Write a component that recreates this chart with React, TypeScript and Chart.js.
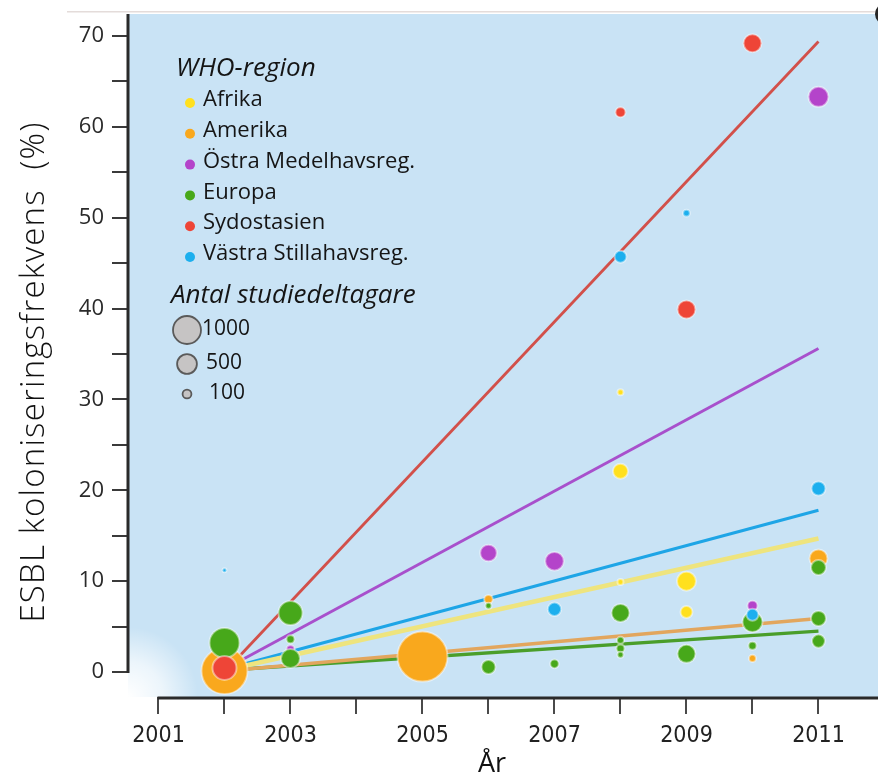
import React, { useEffect, useRef } from "react";
import { Chart, registerables } from "chart.js";

Chart.register(...registerables);

// ---------------- DATA ----------------
const xTickYears = [2001, 2002, 2003, 2004, 2005, 2006, 2007, 2008, 2009, 2010, 2011];
const xLabelYears = [2001, 2003, 2005, 2007, 2009, 2011];
const yTickValues = [0, 5, 10, 15, 20, 25, 30, 35, 40, 45, 50, 55, 60, 65, 70];
const yLabelValues = [0, 10, 20, 30, 40, 50, 60, 70];

const regionNames = [
  "Afrika",
  "Amerika",
  "Östra Medelhavsreg.",
  "Europa",
  "Sydostasien",
  "Västra Stillahavsreg.",
];
const sizeLegendValues = [1000, 500, 100];

// Afrika
const afrikaYears = [2008, 2008, 2008, 2009, 2009];
const afrikaRates = [30.8, 22.1, 9.9, 10.0, 6.6];
const afrikaN = [46, 287, 46, 460, 184];
// Amerika
const amerikaYears = [2002, 2005, 2006, 2010, 2011];
const amerikaRates = [0.1, 1.7, 8.0, 1.5, 12.5];
const amerikaN = [2700, 3200, 94, 63, 413];
// Östra Medelhavsregionen
const ostraYears = [2003, 2006, 2007, 2010, 2011];
const ostraRates = [2.5, 13.1, 12.2, 7.3, 63.3];
const ostraN = [82, 354, 440, 128, 510];
// Europa
const europaYears = [2002, 2003, 2003, 2003, 2006, 2006, 2007, 2008, 2008, 2008, 2008, 2009, 2010, 2010, 2011, 2011, 2011];
const europaRates = [3.2, 6.5, 3.6, 1.5, 7.3, 0.55, 0.9, 6.5, 3.5, 2.6, 1.9, 2.0, 5.5, 2.9, 11.5, 5.9, 3.4];
const europaN = [1148, 735, 82, 460, 46, 250, 94, 413, 63, 82, 46, 413, 510, 82, 287, 287, 216];
// Sydostasien
const sydostYears = [2002, 2008, 2009, 2010];
const sydostRates = [0.45, 61.6, 39.9, 69.2];
const sydostN = [735, 128, 413, 413];
// Västra Stillahavsregionen
const vastraYears = [2002, 2007, 2008, 2009, 2010, 2011];
const vastraRates = [11.2, 6.9, 45.7, 50.5, 6.3, 20.2];
const vastraN = [20, 230, 184, 60, 184, 250];

// Trend lines (start 2002, end 2011)
const trendYears = [2002, 2011];
const trendAfrika = [0.2, 14.7];
const trendAmerika = [0.1, 5.9];
const trendOstra = [0.3, 35.6];
const trendEuropa = [0.2, 4.5];
const trendSydost = [0.0, 69.4];
const trendVastra = [0.3, 17.8];

// ---------------- STYLE ----------------
const COLORS = {
  afrika: "#FFE01E",
  amerika: "#F9A81D",
  ostra: "#B444CA",
  europa: "#47A81A",
  sydost: "#EE4537",
  vastra: "#1CAFEE",
};
const LINE_COLORS = {
  afrika: "#EEE47E",
  amerika: "#E2A65E",
  ostra: "#A850CC",
  europa: "#4A9E2A",
  sydost: "#D2504A",
  vastra: "#1EA5E6",
};
const BG = "#C9E3F5";
const X_MIN = 2000.538;
const X_MAX = 2011.902;
const Y_MIN = -2.75;
const Y_MAX = 72.42;

const radiusFor = (n: number) => 14 * Math.sqrt(n / 1000);

function bubblePoints(ys: number[], vs: number[], ns: number[]) {
  return ys.map((x, i) => ({ x, y: vs[i], r: radiusFor(ns[i]) }));
}
function trendPoints(vals: number[]) {
  return trendYears.map((x, i) => ({ x, y: vals[i] }));
}

const UI_FONT = "'Open Sans', 'Noto Sans', 'DejaVu Sans', sans-serif";
const COND_FONT = "'Liberation Sans Narrow', 'DejaVu Sans Condensed', 'Roboto', sans-serif";

const zeroPadding = (axis: any) => {
  axis.paddingTop = 0;
  axis.paddingBottom = 0;
  axis.paddingLeft = 0;
  axis.paddingRight = 0;
};

const decorPlugin = {
  id: "decor",
  beforeDraw(chart: any) {
    const { ctx, chartArea: a } = chart;
    ctx.save();
    ctx.fillStyle = "#E4DCDA";
    ctx.fillRect(67, 11, 878 - 67, 1.5);
    ctx.fillStyle = BG;
    ctx.fillRect(a.left, a.top, a.right - a.left, a.bottom - a.top);
    const g = ctx.createRadialGradient(a.left, a.bottom, 0, a.left, a.bottom, 70);
    g.addColorStop(0, "rgba(255,255,255,1)");
    g.addColorStop(0.5, "rgba(255,255,255,0.65)");
    g.addColorStop(1, "rgba(255,255,255,0)");
    ctx.fillStyle = g;
    ctx.fillRect(a.left, a.bottom - 70, 70, 70);
    ctx.restore();
  },
  afterDraw(chart: any) {
    const { ctx, chartArea: a, scales } = chart;
    const xs = scales.x;
    const ys = scales.y;
    ctx.save();
    ctx.strokeStyle = "#2A2A2A";
    ctx.lineWidth = 3;
    ctx.beginPath();
    ctx.moveTo(a.left, a.top);
    ctx.lineTo(a.left, ys.getPixelForValue(0) + 1);
    ctx.stroke();
    ctx.beginPath();
    ctx.moveTo(xs.getPixelForValue(xTickYears[0]) - 1, a.bottom + 1);
    ctx.lineTo(a.right, a.bottom + 1);
    ctx.stroke();

    ctx.fillStyle = "#262626";
    ctx.beginPath();
    ctx.arc(886, 14, 11, 0, Math.PI * 2);
    ctx.fill();

    // axis titles
    ctx.fillStyle = "#111";
    ctx.textAlign = "center";
    ctx.textBaseline = "middle";
    ctx.font = `27px ${UI_FONT}`;
    ctx.fillText("År", 492, 764);
    ctx.save();
    ctx.translate(35, 372);
    ctx.rotate(-Math.PI / 2);
    ctx.font = `300 33px ${UI_FONT}`;
    (ctx as any).letterSpacing = "1.2px";
    ctx.fillText("ESBL koloniseringsfrekvens  (%)", 0, 0);
    ctx.restore();

    // legend
    ctx.textAlign = "left";
    ctx.fillStyle = "#151515";
    ctx.font = `italic 26px ${UI_FONT}`;
    ctx.fillText("WHO-region", 176, 69);
    const colorList = [COLORS.afrika, COLORS.amerika, COLORS.ostra, COLORS.europa, COLORS.sydost, COLORS.vastra];
    ctx.font = `22px ${UI_FONT}`;
    regionNames.forEach((name, i) => {
      const cy = 100 + i * 30.8;
      ctx.fillStyle = colorList[i];
      ctx.beginPath();
      ctx.arc(190, cy + 3, 5, 0, Math.PI * 2);
      ctx.fill();
      ctx.fillStyle = "#151515";
      ctx.fillText(name, 203, cy);
    });
    ctx.font = `italic 26px ${UI_FONT}`;
    ctx.fillText("Antal studiedeltagare", 171, 296);
    const sizeY = [330, 364, 394];
    const labelX = [202, 206, 209];
    ctx.font = `21px ${UI_FONT}`;
    sizeLegendValues.forEach((n, i) => {
      const r = radiusFor(n);
      ctx.fillStyle = "#C6C4C4";
      ctx.strokeStyle = "#5A5A5A";
      ctx.lineWidth = 1.8;
      ctx.beginPath();
      ctx.arc(187, sizeY[i], r, 0, Math.PI * 2);
      ctx.fill();
      ctx.stroke();
      ctx.fillStyle = "#151515";
      ctx.fillText(String(n), labelX[i], sizeY[i] - 1);
    });
    ctx.restore();
  },
};

export default function App() {
  const ref = useRef<HTMLCanvasElement>(null);

  useEffect(() => {
    const canvas = ref.current;
    if (!canvas) return;

    const bubble = (label: string, data: any[], color: string, order: number) => ({
      type: "bubble" as const,
      label,
      data,
      backgroundColor: color,
      borderColor: "rgba(255,255,255,0.45)",
      borderWidth: 2,
      order,
      clip: false,
    });
    const trend = (label: string, vals: number[], color: string, width: number) => ({
      type: "line" as const,
      label,
      data: trendPoints(vals),
      borderColor: color,
      borderWidth: width,
      pointRadius: 0,
      fill: false,
      order: 20,
    });

    const chart = new Chart(canvas, {
      type: "bubble",
      data: {
        datasets: [
          trend("Afrika trend", trendAfrika, LINE_COLORS.afrika, 4.5),
          trend("Amerika trend", trendAmerika, LINE_COLORS.amerika, 3.5),
          trend("Europa trend", trendEuropa, LINE_COLORS.europa, 3.5),
          trend("Västra trend", trendVastra, LINE_COLORS.vastra, 3),
          trend("Östra trend", trendOstra, LINE_COLORS.ostra, 3),
          trend("Sydost trend", trendSydost, LINE_COLORS.sydost, 2.8),
          bubble(regionNames[0], bubblePoints(afrikaYears, afrikaRates, afrikaN), COLORS.afrika, 5),
          bubble(regionNames[1], bubblePoints(amerikaYears, amerikaRates, amerikaN), COLORS.amerika, 4),
          bubble(regionNames[2], bubblePoints(ostraYears, ostraRates, ostraN), COLORS.ostra, 3),
          bubble(regionNames[3], bubblePoints(europaYears, europaRates, europaN), COLORS.europa, 2),
          bubble(regionNames[4], bubblePoints(sydostYears, sydostRates, sydostN), COLORS.sydost, 1),
          bubble(regionNames[5], bubblePoints(vastraYears, vastraRates, vastraN), COLORS.vastra, 0),
        ] as any,
      },
      options: {
        responsive: false,
        animation: false,
        devicePixelRatio: 1,
        layout: { autoPadding: false, padding: { left: 0, right: 0, top: 14, bottom: 0 } },
        plugins: {
          legend: { display: false },
          tooltip: { enabled: false },
          title: { display: false },
        },
        scales: {
          x: {
            type: "linear",
            position: "bottom",
            min: X_MIN,
            max: X_MAX,
            afterBuildTicks: (axis: any) => {
              axis.ticks = xTickYears.map((v) => ({ value: v }));
            },
            afterFit: (axis: any) => {
              axis.height = 83;
              zeroPadding(axis);
            },
            border: { display: false },
            grid: {
              drawOnChartArea: false,
              drawTicks: true,
              tickLength: 17,
              color: "#4A4A4A",
              lineWidth: 2,
            },
            ticks: {
              autoSkip: false,
              maxRotation: 0,
              padding: 8,
              color: "#222",
              font: { family: COND_FONT, size: 23 },
              callback: (v: any) => (xLabelYears.includes(Number(v)) ? String(v) : ""),
            },
          },
          y: {
            type: "linear",
            min: Y_MIN,
            max: Y_MAX,
            afterBuildTicks: (axis: any) => {
              axis.ticks = yTickValues.map((v) => ({ value: v }));
            },
            afterFit: (axis: any) => {
              axis.width = 128;
              zeroPadding(axis);
            },
            border: { display: false },
            grid: {
              drawOnChartArea: false,
              drawTicks: true,
              tickLength: 16,
              color: "#3A3A3A",
              lineWidth: 2,
            },
            ticks: {
              padding: 8,
              color: "#2A2A2A",
              font: { family: UI_FONT, size: 22 },
              callback: (v: any) => (yLabelValues.includes(Number(v)) ? String(v) : ""),
            },
          },
        },
      } as any,
      plugins: [decorPlugin],
    });

    return () => chart.destroy();
  }, []);

  return (
    <div style={{ position: "absolute", left: 0, top: 0, width: 878, height: 780, background: "#fff" }}>
      <canvas ref={ref} width={878} height={780} style={{ display: "block", width: 878, height: 780 }} />
    </div>
  );
}
